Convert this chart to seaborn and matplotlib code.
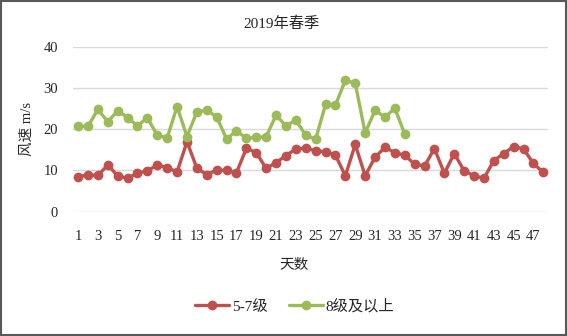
import pandas as pd
import numpy as np
import matplotlib.pyplot as plt
import seaborn as sns
from matplotlib.patches import Rectangle

sns.set_theme(style="white")
plt.rcParams['font.family'] = ['Liberation Serif', 'Noto Sans CJK SC', 'DejaVu Sans']
plt.rcParams['axes.unicode_minus'] = False

# daily wind speed, spring 2019
level_5_7 = [8.5, 8.9, 8.8, 11.3, 8.7, 8.1, 9.3, 9.9, 11.3, 10.7,
             9.6, 17.0, 10.5, 9.0, 10.1, 10.0, 9.4, 15.4, 14.3, 10.5,
             11.9, 13.6, 15.2, 15.4, 14.8, 14.5, 13.7, 8.7, 16.3, 8.7,
             13.2, 15.6, 14.3, 13.7, 11.5, 11.1, 15.3, 9.3, 14.1, 9.9,
             8.7, 8.1, 12.4, 14.1, 15.8, 15.2, 11.7, 9.5]
level_8_up = [20.7, 20.7, 24.8, 21.8, 24.5, 22.8, 20.8, 22.8, 18.5, 17.9,
              25.5, 18.2, 24.2, 24.6, 23.0, 17.6, 19.6, 17.8, 18.0, 18.2,
              23.4, 20.8, 22.2, 18.5, 17.6, 26.0, 25.8, 31.9, 31.1, 19.1,
              24.6, 22.9, 25.1, 18.8]
series_names = ['5-7级', '8级及以上']
series_colors = ['#C0504D', '#9BBB59']

df = pd.concat([
    pd.DataFrame({'day': np.arange(1, len(level_5_7) + 1), 'speed': level_5_7, 'level': series_names[0]}),
    pd.DataFrame({'day': np.arange(1, len(level_8_up) + 1), 'speed': level_8_up, 'level': series_names[1]}),
])

txt = '#262626'
fig = plt.figure(figsize=(5.67, 3.36), dpi=100)
ax = fig.add_axes([0.129, 0.370, 0.838, 0.491])

sns.lineplot(data=df, x='day', y='speed', hue='level', palette=series_colors,
             marker='o', markersize=7, markeredgewidth=0, linewidth=2.4, ax=ax)

ax.set_xlim(0.5, 48.5)
ax.set_ylim(0, 40)
ax.set_xticks(np.arange(1, 48, 2))
ax.set_yticks([0, 10, 20, 30, 40])
ax.tick_params(axis='both', labelsize=10.5, length=0, colors=txt)
ax.tick_params(axis='x', pad=13)
ax.tick_params(axis='y', pad=11)
ax.grid(axis='y', color='#D9D9D9', linewidth=1)
ax.set_axisbelow(True)
for s in ax.spines.values():
    s.set_visible(False)
ax.set_xlabel('')
ax.set_ylabel('')

# titles placed like the office chart: centred on the chart area, not the plot
fig.text(0.497, 0.929, '2019年春季', fontsize=11, color=txt, ha='center', va='center')
fig.text(0.519, 0.210, '天数', fontsize=10.5, color=txt, ha='center', va='center')
fig.text(0.047, 0.617, '风速 m/s', fontsize=10.5, color=txt, ha='center', va='center',
         rotation=90)

handles, labels = ax.get_legend_handles_labels()
ax.get_legend().remove()
fig.legend(handles, labels, loc='center', bbox_to_anchor=(0.520, 0.089), ncol=2,
           frameon=False, fontsize=11, handlelength=2.2, columnspacing=1.4,
           handletextpad=0.2, labelcolor=txt)

fig.patches.append(Rectangle((0.002, 0.003), 0.996, 0.994, transform=fig.transFigure,
                             fill=False, edgecolor='#595959', linewidth=1.5))

fig.savefig('out.png', dpi=100)
